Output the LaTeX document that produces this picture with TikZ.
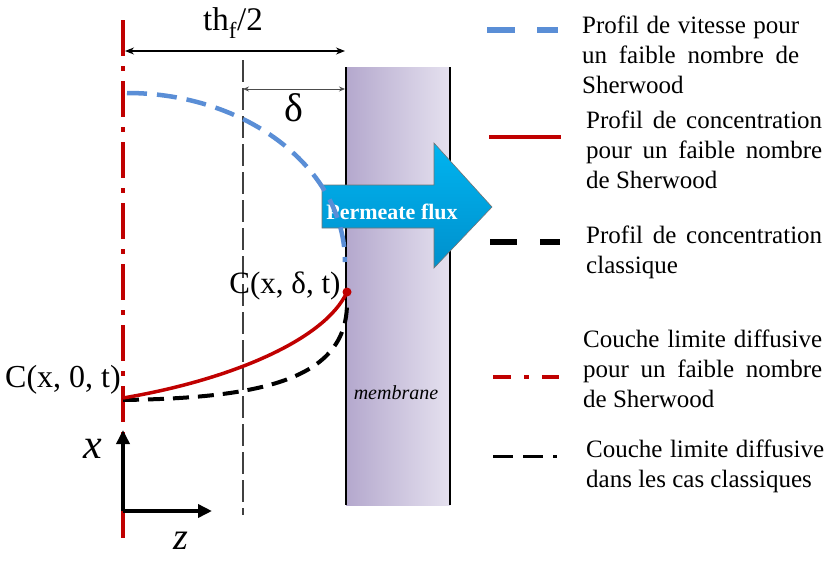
\documentclass[tikz,border=0pt]{standalone}
\usepackage{fontspec}
\setmainfont{Liberation Serif}
\usetikzlibrary{arrows.meta}
\definecolor{sherred}{RGB}{192,0,0}
\definecolor{velblue}{RGB}{90,142,214}
\definecolor{fluxtop}{RGB}{0,180,240}
\definecolor{fluxbot}{RGB}{0,144,204}
\definecolor{memleft}{RGB}{180,168,205}
\definecolor{memright}{RGB}{229,225,239}
\hyphenpenalty=10000
\exhyphenpenalty=10000
\tolerance=10000

\begin{document}
\begin{tikzpicture}[x=1pt,y=-1pt,
  redaxis/.style={sherred,line width=4pt,dash pattern=on 36pt off 10pt on 5pt off 10pt},
  vprof/.style={velblue,line width=4.5pt,dash pattern=on 20pt off 10pt},
  cprof/.style={sherred,line width=3.5pt},
  cclass/.style={black,line width=4pt,dash pattern=on 16pt off 9pt},
  bclass/.style={black!75,line width=1.1pt,dash pattern=on 22pt off 6pt},
  dim/.style={{Stealth[length=9pt,width=7pt]}-{Stealth[length=9pt,width=7pt]},line width=1.1pt},
  axis/.style={-{Triangle[length=14pt,width=13pt]},line width=3.5pt},
  lbl/.style={inner sep=0pt},
  legtext/.style={anchor=base west,inner sep=0pt,text width=#1,align=justify,
    font=\fontsize{25}{30}\selectfont}
]
\useasboundingbox (0,0) rectangle (825,560);

% geometry
\coordinate (atop) at (123,20);
\coordinate (abot) at (123,538);
\coordinate (btop) at (243,60);
\coordinate (bbot) at (243,515);
\coordinate (memNW) at (346,67);
\coordinate (memSW) at (346,505);
\coordinate (memNE) at (450,67);
\coordinate (memSE) at (450,505);

\draw[redaxis] (atop) -- (abot);
\draw[bclass] (btop) -- (bbot);

% membrane
\shade[left color=memleft,right color=memright] (memNW) rectangle (memSE);
\draw[line width=1.6pt] (memNW) -- (memSW);
\draw[line width=1.6pt] (memNE) -- (memSE);
\node[lbl,font=\itshape\fontsize{20}{20}\selectfont] (mem) at (396,393) {membrane};

% permeate flux
\shadedraw[top color=fluxtop,bottom color=fluxbot,draw=black!55,line width=0.6pt]
  (322,185) -- (434,185) -- (434,143) -- (492,207) -- (434,268) -- (434,228) -- (322,228) -- cycle;
\node[lbl,font=\bfseries\fontsize{22}{22}\selectfont,text=white] (flux) at (392,212) {Permeate flux};

% dimensions
\coordinate (th1) at (125,51);
\coordinate (th2) at (345,51);
\coordinate (dl1) at (243,89);
\coordinate (dl2) at (345,89);
\draw[dim] (th1) -- (th2);
\draw[dim,black!70,line width=0.8pt,{Stealth[length=6pt,width=5pt]}-{Stealth[length=6pt,width=5pt]}] (dl1) -- (dl2);
\node[lbl,font=\fontsize{33}{33}\selectfont] (thf) at (233,23) {th\textsubscript{f}/2};
\node[lbl,font=\fontsize{40}{40}\selectfont] (delta) at (294,108) {δ};

% profiles
\coordinate (vtop) at (127,93);
\coordinate (vbot) at (345,262);
\coordinate (c0) at (123,398);
\coordinate (cd) at (347,292);
\coordinate (k0) at (123,400);
\coordinate (kd) at (347,303);
\draw[vprof] (vtop) .. controls (247,93) and (345,169) .. (vbot);
\draw[cclass] (k0) .. controls (260,398) and (347,380) .. (kd);
\draw[cprof] (c0) .. controls (230,380) and (325,340) .. (cd);
\fill[sherred] (cd) circle (4.5pt);
\node[lbl,font=\fontsize{31}{31}\selectfont] (cdl) at (285,286) {C(x, δ, t)};
\node[lbl,font=\fontsize{32}{32}\selectfont] (c0l) at (63,380) {C(x, 0, t)};

% axes
\coordinate (o) at (123,511);
\coordinate (xa) at (123,430);
\coordinate (za) at (212,511);
\draw[axis] (o) -- (xa);
\draw[axis] (o) -- (za);
\node[lbl,font=\itshape\fontsize{42}{42}\selectfont] (xl) at (93,449) {x};
\node[lbl,font=\itshape\fontsize{38}{38}\selectfont] (zl) at (181,541) {z};

% legend
\coordinate (lv1) at (487,30);  \coordinate (lv2) at (558,30);
\coordinate (lc1) at (489,137); \coordinate (lc2) at (561,137);
\coordinate (lk1) at (490,242); \coordinate (lk2) at (560,242);
\coordinate (la1) at (493,377); \coordinate (la2) at (559,377);
\coordinate (lb1) at (493,456); \coordinate (lb2) at (557,456);
\draw[vprof,line width=5.5pt,dash pattern=on 28pt off 22pt] (lv1) -- (lv2);
\draw[cprof,line width=4pt] (lc1) -- (lc2);
\draw[cclass,line width=6pt,dash pattern=on 27pt off 23pt] (lk1) -- (lk2);
\draw[redaxis,dash pattern=on 18pt off 13pt on 5pt off 13pt] (la1) -- (la2);
\draw[black,line width=3pt,dash pattern=on 20pt off 10pt] (lb1) -- (lb2);
\node[legtext=217pt] (leg1) at (582,33) {Profil de vitesse pour un faible nombre de Sherwood};
\node[legtext=236pt] (leg2) at (586,128) {Profil de concentration pour un faible nombre de Sherwood};
\node[legtext=236pt] (leg3) at (586,243) {Profil de concentration classique};
\node[legtext=239pt] (leg4) at (583,347) {Couche limite diffusive pour un faible nombre de Sherwood};
\node[legtext=238pt] (leg5) at (586,457) {Couche limite diffusive dans les cas classiques};
\end{tikzpicture}
\end{document}
